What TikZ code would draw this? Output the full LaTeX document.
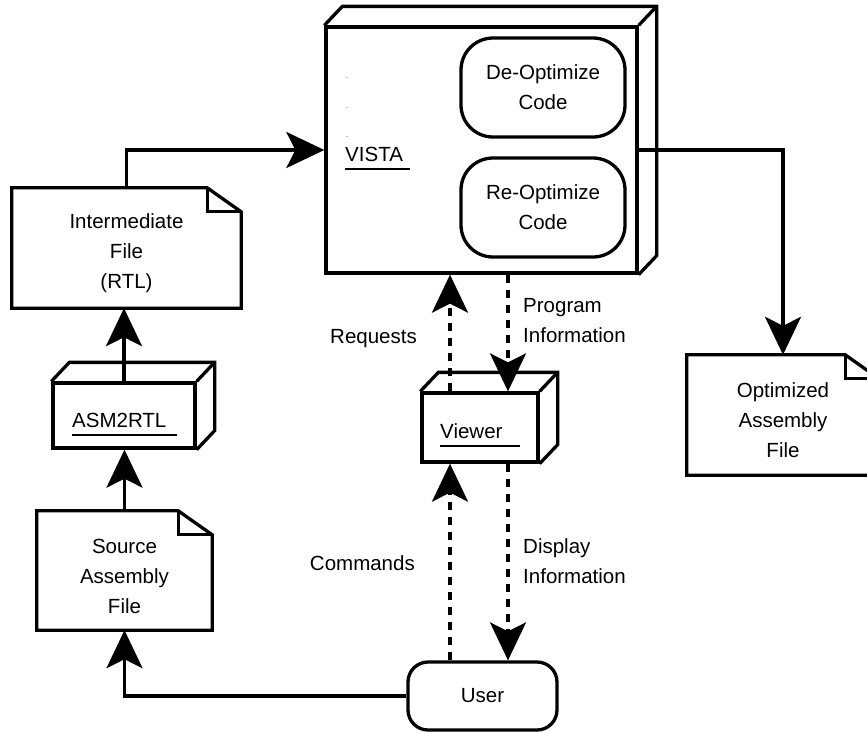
\documentclass[tikz,border=0pt]{standalone}
\usepackage{fontspec}
\setmainfont{Liberation Sans}
\usetikzlibrary{arrows.meta}

\begin{document}
\begin{tikzpicture}[x=1pt, y=-1pt,
    every node/.style={font=\fontsize{20.5}{30}\selectfont, inner sep=0pt},
    boxline/.style={line width=3.3pt},
    solidbox/.style={draw, boxline},
    roundbox/.style={draw, boxline, rounded corners=#1, align=center},
    filenode/.style={align=center},
    flow/.style={boxline, -{Stealth[length=38pt, width=36pt, inset=9pt]}},
    dashflow/.style={flow, dash pattern=on 8pt off 7pt},
    uline/.style={line width=2.6pt}
]

    \useasboundingbox (0,0) rectangle (867,732);

    % ==========================================
    % MACROS: folded file outline, 3D box faces
    % ==========================================
    \def\foldfile#1{
        \draw[boxline] (#1.north west) -- ([xshift=-34pt]#1.north east)
            -- ([yshift=-24pt]#1.north east) -- (#1.south east)
            -- (#1.south west) -- cycle;
        \draw[boxline] ([xshift=-34pt]#1.north east)
            -- ([xshift=-34pt, yshift=-24pt]#1.north east)
            -- ([yshift=-24pt]#1.north east);
    }
    \def\depthfaces#1{
        \draw[boxline] (#1.north west) -- ([shift={(18pt,19pt)}]#1.north west)
            -- ([shift={(18pt,19pt)}]#1.north east)
            -- ([shift={(18pt,19pt)}]#1.south east) -- (#1.south east);
        \draw[boxline] (#1.north east) -- ([shift={(18pt,19pt)}]#1.north east);
    }
    % pushes the text block of a file a bit down
    \def\filetop{\rule{0pt}{26pt}}

    % ==========================================
    % VISTA (big 3D box with its two actions)
    % ==========================================
    \node[solidbox, minimum width=311pt, minimum height=246pt] (Vista) at (481.5,150) {};
    \depthfaces{Vista}
    \foreach \y [count=\i] in {78,108,137}
        \node[anchor=base west, font=\fontsize{7}{7}\selectfont] (VistaDot\i) at (346,\y) {.};
    \node[anchor=base west] (VistaLabel) at (345,161) {VISTA};
    \draw[uline] ([yshift=-8pt]VistaLabel.base west) -- ++(65pt,0pt);

    \node[roundbox=32pt, minimum width=164pt, minimum height=99pt] (DeOpt) at (543,87.5) {De-Optimize\\Code};
    \node[roundbox=32pt, minimum width=164pt, minimum height=99pt] (ReOpt) at (543,207.5) {Re-Optimize\\Code};

    % ==========================================
    % FILES
    % ==========================================
    \node[filenode, minimum width=229pt, minimum height=120pt] (InterFile) at (126.5,248) {\filetop Intermediate\\File\\(RTL)};
    \foldfile{InterFile}
    \node[filenode, minimum width=175pt, minimum height=119pt] (SrcFile) at (124.5,570.5) {\filetop Source\\Assembly\\File};
    \foldfile{SrcFile}
    \node[filenode, minimum width=192pt, minimum height=120pt] (OptFile) at (783,415) {\filetop Optimized\\Assembly\\File};
    \foldfile{OptFile}

    % ==========================================
    % ASM2RTL and Viewer (small 3D boxes)
    % ==========================================
    \node[solidbox, minimum width=142pt, minimum height=65pt] (AsmBox) at (124,415.5) {};
    \depthfaces{AsmBox}
    \node[anchor=base west] (AsmLabel) at (72,427) {ASM2RTL};
    \draw[uline] ([yshift=-8pt]AsmLabel.base west) -- ++(105pt,0pt);

    \node[solidbox, minimum width=116pt, minimum height=69pt] (ViewerBox) at (480,427.5) {};
    \depthfaces{ViewerBox}
    \node[anchor=base west] (ViewerLabel) at (440,438) {Viewer};
    \draw[uline] ([yshift=-8pt]ViewerLabel.base west) -- ++(80pt,0pt);

    % User
    \node[roundbox=20pt, minimum width=149pt, minimum height=68pt] (UserBox) at (482.5,696) {User};

    % ==========================================
    % CONNECTORS
    % ==========================================
    \draw[flow] (InterFile.north) |- (Vista.west);
    \draw[flow] (AsmBox.north) -- (AsmBox.north |- InterFile.south);
    \draw[flow] (SrcFile.north) -- (SrcFile.north |- AsmBox.south);
    \draw[flow] (UserBox.west) -| (SrcFile.south);
    \draw[flow] (Vista.east) -| (OptFile.north);

    % dashed traffic between VISTA, Viewer and User
    \coordinate (ReqFoot) at ([xshift=-30pt]ViewerBox.north);
    \coordinate (ProgTip) at ([xshift=28pt]ViewerBox.north);
    \coordinate (CmdTip) at ([xshift=-30pt]ViewerBox.south);
    \coordinate (DispFoot) at ([xshift=28pt]ViewerBox.south);
    \draw[dashflow] (ReqFoot) -- (ReqFoot |- Vista.south);
    \draw[dashflow] (ProgTip |- Vista.south) -- (ProgTip);
    \draw[dashflow] (CmdTip |- UserBox.north) -- (CmdTip);
    \draw[dashflow] (DispFoot) -- (DispFoot |- UserBox.north);

    \node[anchor=base east] (ReqLabel) at (417,343) {Requests};
    \node[anchor=base west, align=left] (ProgLabel) at (523,342) {Program\\Information};
    \node[anchor=base east] (CmdLabel) at (415,570) {Commands};
    \node[anchor=base west, align=left] (DispLabel) at (523,583) {Display\\Information};

\end{tikzpicture}
\end{document}
